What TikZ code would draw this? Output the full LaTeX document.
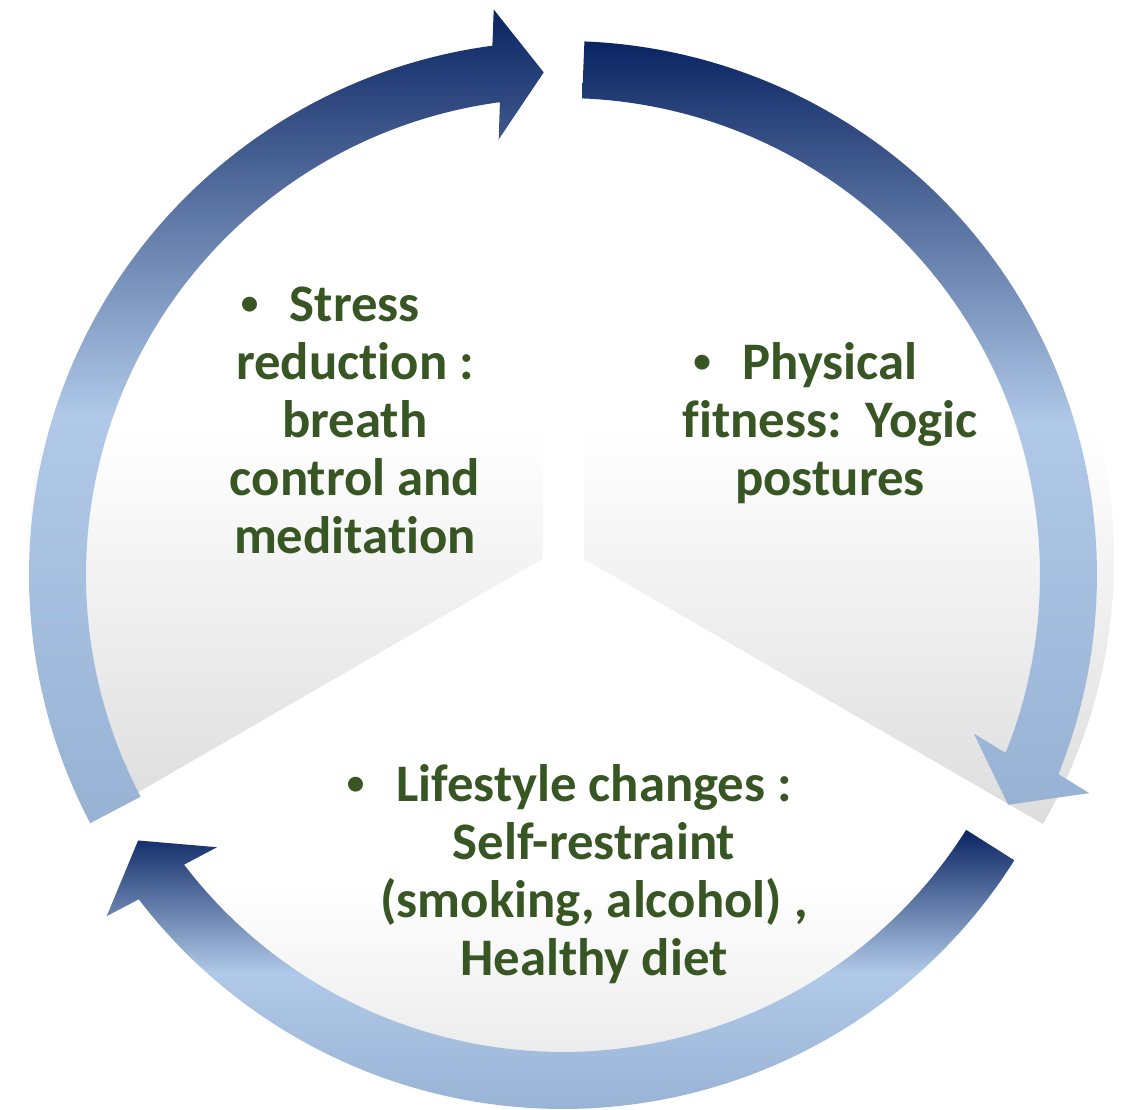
\documentclass[tikz,border=0pt]{standalone}
\usepackage{fontspec}
\setmainfont{Carlito}[Ligatures=NoCommon]
\usetikzlibrary{calc}

\definecolor{wedgegray}{RGB}{221,221,221}
\definecolor{arrowdark}{RGB}{10,36,98}
\definecolor{arrowlight}{RGB}{176,201,232}
\definecolor{arrowlow}{RGB}{152,178,212}
\definecolor{txtgreen}{RGB}{55,86,35}

\newcommand{\itembullet}{\llap{\raisebox{0.12em}{\fontsize{10pt}{10pt}\selectfont\textbullet}\hspace{0.6em}}}

\tikzset{
  pieslice/.style={top color=white, bottom color=wedgegray, middle color=white},
  cyclearrow/.style={top color=arrowdark, bottom color=arrowlow, middle color=arrowlight},
  itemtext/.style={text=txtgreen, align=center,
    font=\fontsize{15pt}{16.5pt}\selectfont\bfseries}
}

\begin{document}
\begin{tikzpicture}[x=0.01cm, y=0.01cm]
        \useasboundingbox (-563,-535) rectangle (575,575);
        % the three slices, pushed out from the middle
        \shade [pieslice] (-20,16.5) -- ++(90:514) arc [start angle=90, end angle=210, radius=514] -- cycle;
        \shade [pieslice] (21,16) -- ++(-30:530) arc [start angle=-30, end angle=90, radius=530] -- cycle;
        \shade [pieslice] (0,-18) -- ++(210:515) arc [start angle=210, end angle=330, radius=515] -- cycle;
        % circular arrows, clockwise
        \shade [cyclearrow] (207.7:534) arc [start angle=207.7, end angle=97.6, radius=534]
            -- ($(97.6:505)+(92.2:65)$) -- (92.2:503) -- ($(97.6:505)-(92.2:65)$)
            -- (97.6:477) arc [start angle=97.6, end angle=207.7, radius=477] -- cycle;
        \shade [cyclearrow] (87.7:534) arc [start angle=87.7, end angle=-21.9, radius=534]
            -- ($(-21.9:505)+(-27.3:65)$) -- (-27.3:501) -- ($(-21.9:505)-(-27.3:65)$)
            -- (-21.9:477) arc [start angle=-21.9, end angle=87.7, radius=477] -- cycle;
        \shade [cyclearrow] (327.7:534) arc [start angle=327.7, end angle=217.4, radius=534]
            -- ($(217.4:505)+(212.0:65)$) -- (212.0:501) -- ($(217.4:505)-(212.0:65)$)
            -- (217.4:477) arc [start angle=217.4, end angle=327.7, radius=477] -- cycle;
        \node [itemtext] (stress) at (-208,155) {\itembullet Stress\\ reduction :\\ breath\\ control and\\ meditation};
        \node [itemtext] (fitness) at (267,152) {\itembullet Physical\\ fitness:\ \ Yogic\\ postures};
        \node [itemtext] (lifestyle) at (31,-299) {\itembullet Lifestyle changes :\\ Self-restraint\\ (smoking, alcohol) ,\\ Healthy diet};
    \end{tikzpicture}
\end{document}
